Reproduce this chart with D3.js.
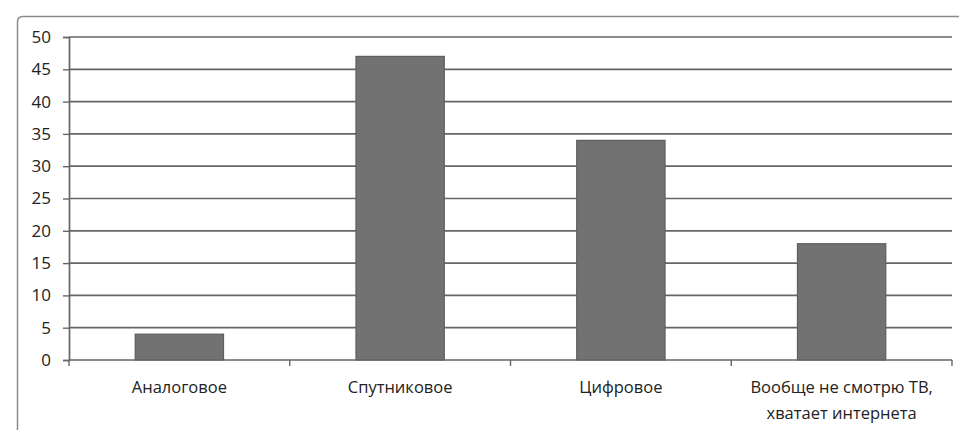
<!DOCTYPE html>
<html><head><meta charset="utf-8">
<script src="https://cdn.jsdelivr.net/npm/d3@7"></script>
<style>body{margin:0;background:#fff}svg{display:block}text{font-family:"Open Sans",sans-serif;fill:#222}</style>
</head><body>
<svg id="c" width="959" height="430"></svg>
<script>
const categories = ["Аналоговое","Спутниковое","Цифровое","Вообще не смотрю ТВ,\nхватает интернета"];
const values = [4, 47, 34, 18];
const yTicks = [0,5,10,15,20,25,30,35,40,45,50];

const svg = d3.select("#c");
const m = {l:69, r:7, t:37, b:70};
const W = 959, H = 430;
// frame
svg.append("path").attr("d","M17.5,430 L17.5,22 Q17.5,16.5 23,16.5 L959,16.5")
  .attr("fill","none").attr("stroke","#8a8a8a").attr("stroke-width",1.5);

const x = d3.scaleBand().domain(categories).range([m.l, W-m.r]).paddingInner(0.6).paddingOuter(0.3);
const y = d3.scaleLinear().domain([0,50]).range([H-m.b, m.t]);

// grid
svg.append("g").selectAll("line").data(yTicks.filter(d=>d>0)).join("line")
  .attr("x1",m.l).attr("x2",W-m.r).attr("y1",d=>y(d)).attr("y2",d=>y(d))
  .attr("stroke","#666").attr("stroke-width",1.7);

// bars
svg.append("g").selectAll("rect").data(values).join("rect")
  .attr("x",(d,i)=>x(categories[i])).attr("width",x.bandwidth())
  .attr("y",d=>y(d)).attr("height",d=>y(0)-y(d))
  .attr("fill","#727272").attr("stroke","#5e5e5e").attr("stroke-width",1.2);

// y axis
const ya = svg.append("g").attr("transform",`translate(${m.l},0)`)
  .call(d3.axisLeft(y).tickValues(yTicks).tickSize(6).tickPadding(12));
ya.attr("font-size",17).attr("font-family","Open Sans");
ya.select(".domain").attr("stroke","#666").attr("stroke-width",1.7);
ya.selectAll(".tick line").attr("stroke","#666").attr("stroke-width",1.4);
ya.selectAll(".tick text").style("font-size","17px").attr("fill","#222");

// x axis
const xa = d3.scaleLinear().domain([0,4]).range([m.l, W-m.r]);
const xg = svg.append("g").attr("transform",`translate(0,${y(0)})`);
xg.append("line").attr("x1",m.l).attr("x2",W-m.r).attr("stroke","#666").attr("stroke-width",1.7);
xg.selectAll(".tk").data(d3.range(5)).join("line").attr("class","tk")
  .attr("x1",d=>xa(d)).attr("x2",d=>xa(d)).attr("y1",0).attr("y2",6)
  .attr("stroke","#666").attr("stroke-width",1.4);
const lab = xg.selectAll(".lb").data(categories).join("text").attr("class","lb")
  .attr("x",d=>x(d)+x.bandwidth()/2).attr("text-anchor","middle").style("font-size","16.5px");
lab.each(function(d){
  const t = d3.select(this);
  d.split("\n").forEach((s,i)=>t.append("tspan").attr("x",x(d)+x.bandwidth()/2).attr("y",33+i*26).text(s));
});
</script>
</body></html>
